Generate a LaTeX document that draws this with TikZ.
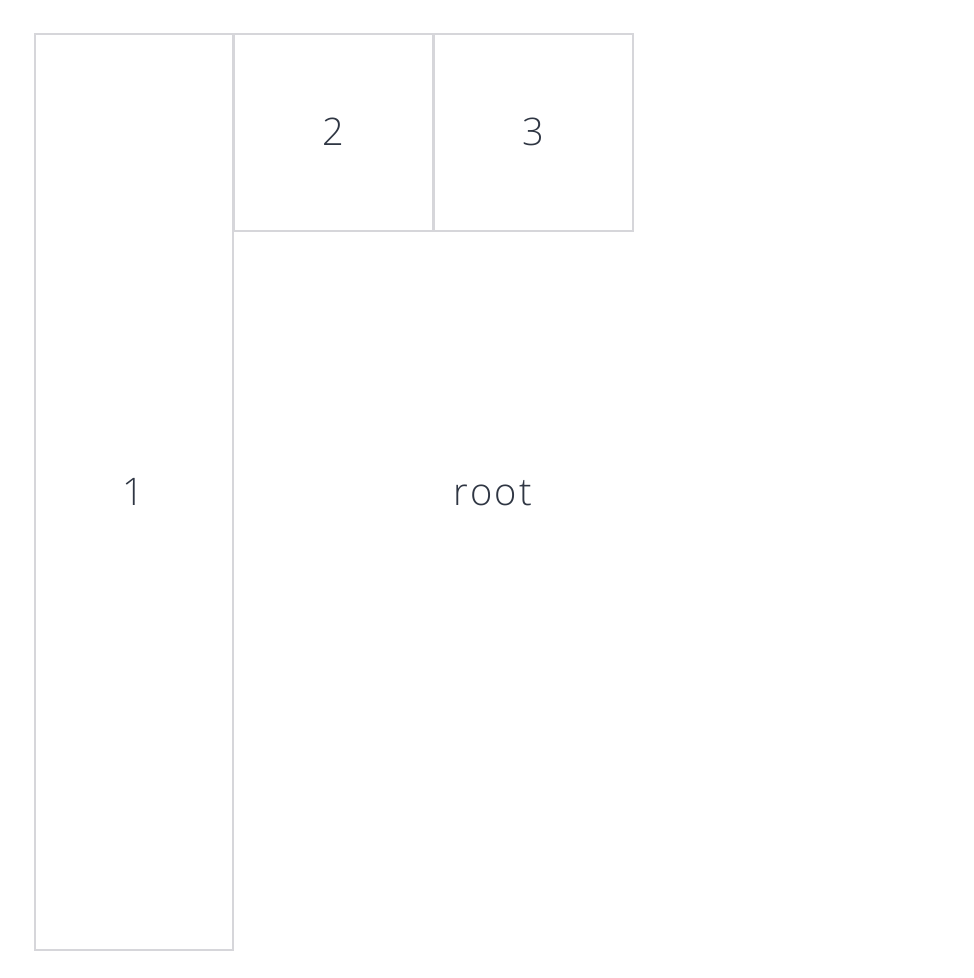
\documentclass[tikz,border=0pt]{standalone}
\usepackage{fontspec}
\IfFontExistsTF{Open Sans Light}{\setmainfont{Open Sans Light}}{\setmainfont{Open Sans}}
\definecolor{edgegray}{HTML}{D6D6DA}
\definecolor{txt}{HTML}{2F3643}
\begin{document}
\begin{tikzpicture}[x=1pt,y=-1pt,
  cell/.style={draw=edgegray,line width=2pt},
  lbl/.style={text=txt,font=\fontsize{38}{38}\selectfont,inner sep=0pt,anchor=base}]
\useasboundingbox[fill=white] (0,0) rectangle (974,978);
\draw[cell] (35,34) rectangle (233,950);
\draw[cell] (234,34) rectangle (433,231);
\draw[cell] (434,34) rectangle (633,231);
\node[lbl] (n1) at (133,505) {1};
\node[lbl] (n2) at (333,145) {2};
\node[lbl] (n3) at (533,145) {3};
\node[lbl] (root) at (493,505) {\addfontfeature{LetterSpace=6}root};
\end{tikzpicture}
\end{document}
